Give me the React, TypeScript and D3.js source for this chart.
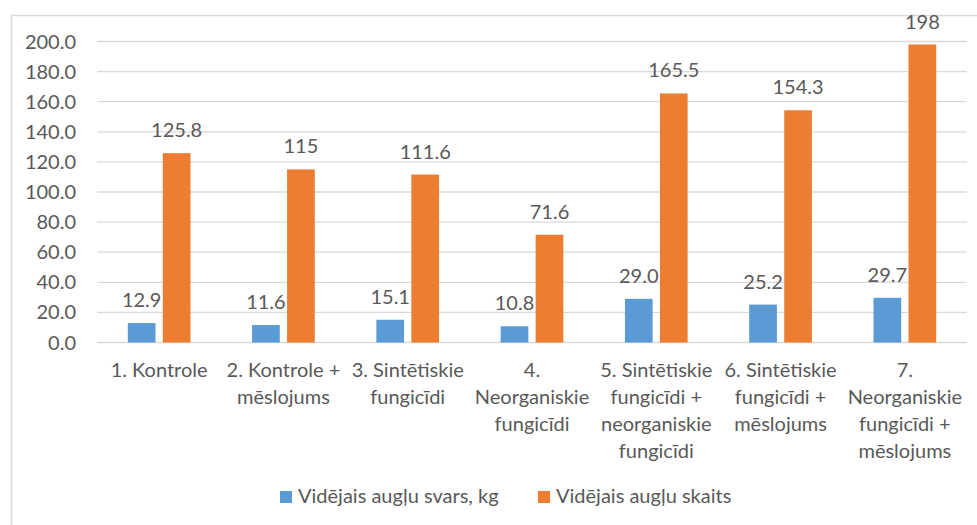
import React from "react";
import * as d3 from "d3";

const categories: string[] = [
  "1. Kontrole",
  "2. Kontrole +\nmēslojums",
  "3. Sintētiskie\nfungicīdi",
  "4.\nNeorganiskie\nfungicīdi",
  "5. Sintētiskie\nfungicīdi +\nneorganiskie\nfungicīdi",
  "6. Sintētiskie\nfungicīdi +\nmēslojums",
  "7.\nNeorganiskie\nfungicīdi +\nmēslojums",
];
const weightValues: number[] = [12.9, 11.6, 15.1, 10.8, 29.0, 25.2, 29.7];
const countValues: number[] = [125.8, 115, 111.6, 71.6, 165.5, 154.3, 198];
const seriesNames: string[] = ["Vidējais augļu svars, kg", "Vidējais augļu skaits"];
const seriesColors: string[] = ["#5B9BD5", "#ED7D31"];
const yTicks: number[] = [0, 20, 40, 60, 80, 100, 120, 140, 160, 180, 200];

const W = 977;
const H = 525;
const FONT = "Lato, 'Open Sans', sans-serif";
const TEXT = "#595959";
const GRID = "#D9D9D9";
const FS = 20;

export default function App() {
  const left = 97;
  const right = 967;
  const top = 41.5;
  const bottom = 342.5;

  const x = d3.scaleBand<number>().domain(d3.range(categories.length)).range([left, right]).paddingInner(0).paddingOuter(0);
  const y = d3.scaleLinear().domain([0, 200]).range([bottom, top]);
  const barW = 27.7;
  const gap = 7.3;

  const series = [weightValues, countValues];
  const fmt = [(v: number) => v.toFixed(1), (v: number) => String(v)];

  return (
    <svg width={W} height={H} style={{ position: "absolute", left: 0, top: 0, background: "#fff" }} fontFamily={FONT}>
      <rect x={0} y={0} width={W} height={H} fill="#fff" />
      <rect x={11.5} y={15.5} width={1100} height={700} fill="none" stroke={GRID} strokeWidth={1.5} />
      {yTicks.map((t) => (
        <g key={t}>
          <line x1={left} x2={right} y1={y(t)} y2={y(t)} stroke={GRID} strokeWidth={1.3} />
          <text x={76} y={y(t)} dy="0.35em" textAnchor="end" fontSize={FS} fill={TEXT}>
            {t.toFixed(1)}
          </text>
        </g>
      ))}
      {categories.map((c, i) => {
        const cx = (x(i) as number) + x.bandwidth() / 2;
        return (
          <g key={c}>
            {series.map((s, k) => {
              const bx = k === 0 ? cx - gap / 2 - barW : cx + gap / 2;
              const v = s[i];
              return (
                <g key={k}>
                  <rect x={bx} y={y(v)} width={barW} height={bottom - y(v)} fill={seriesColors[k]} />
                  <text x={bx + barW / 2} y={y(v) - 16} textAnchor="middle" fontSize={FS} fill={TEXT}>
                    {fmt[k](v)}
                  </text>
                </g>
              );
            })}
            <text textAnchor="middle" fontSize={FS} fill={TEXT}>
              {c.split("\n").map((line, j) => (
                <tspan key={j} x={cx} y={377 + j * 27}>
                  {line}
                </tspan>
              ))}
            </text>
          </g>
        );
      })}
      {seriesNames.map((n, k) => {
        const lx = [280, 538][k];
        return (
          <g key={n}>
            <rect x={lx} y={491} width={12} height={12} fill={seriesColors[k]} />
            <text x={lx + 18} y={503} fontSize={FS} fill={TEXT}>
              {n}
            </text>
          </g>
        );
      })}
    </svg>
  );
}
